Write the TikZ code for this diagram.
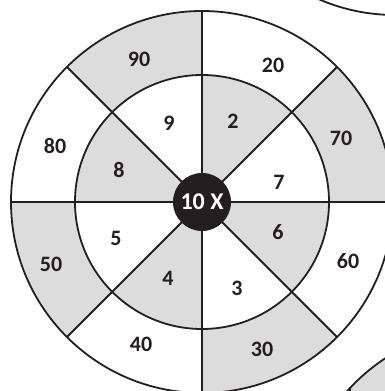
\documentclass[tikz,border=0pt]{standalone}
\usepackage{fontspec}
\setmainfont{Carlito}
\definecolor{ink}{HTML}{231F20}
\definecolor{ringgray}{HTML}{DCDCDC}
\begin{document}
\begin{tikzpicture}[x=1pt,y=1pt,
  ringline/.style={draw=ink,line width=1.8pt},
  lbl/.style={font=\bfseries\fontsize{22}{22}\selectfont,text=ink,inner sep=0pt},
  bulllbl/.style={font=\bfseries\fontsize{24}{24}\selectfont,text=white,inner sep=0pt}]
\useasboundingbox (0,0) rectangle (385,391);
\clip (0,0) rectangle (385,391);
\coordinate (C) at (202,189);
\def\Ro{191}
\def\Ri{127}
% outer gray wedges
\foreach \a/\b in {90/135,0/45,270/315,180/225}
  \fill[ringgray] (C) -- ++(\a:\Ro) arc[start angle=\a,end angle=\b,radius=\Ro] -- cycle;
\fill[white] (C) circle[radius=\Ri];
% inner gray wedges
\foreach \a/\b in {45/90,315/360,225/270,135/180}
  \fill[ringgray] (C) -- ++(\a:\Ri) arc[start angle=\a,end angle=\b,radius=\Ri] -- cycle;
% circles
\draw[ringline] (C) circle[radius=\Ro];
\draw[ringline] (C) circle[radius=\Ri];
% radial lines
\foreach \a in {0,45,...,315}
  \draw[ringline] (C) -- ++(\a:\Ro);
% bull
\fill[ink] (C) circle[radius=29];
\node[bulllbl] (bull) at (C) {10 X};
% outer labels
\node[lbl] (l90) at (139,332) {90};
\node[lbl] (l20) at (273,326) {20};
\node[lbl] (l70) at (341,253) {70};
\node[lbl] (l60) at (348,130) {60};
\node[lbl] (l30) at (262,42) {30};
\node[lbl] (l40) at (141,47) {40};
\node[lbl] (l50) at (51,127) {50};
\node[lbl] (l80) at (55,245) {80};
% inner labels
\node[lbl] (l9) at (169,268) {9};
\node[lbl] (l2) at (233,270) {2};
\node[lbl] (l7) at (279,209) {7};
\node[lbl] (l6) at (278,159) {6};
\node[lbl] (l3) at (237,103) {3};
\node[lbl] (l4) at (168,113) {4};
\node[lbl] (l5) at (116,153) {5};
\node[lbl] (l8) at (119,221) {8};
% neighbouring targets (partly visible)
\coordinate (T2) at (395,567);
\draw[ringline] (T2) circle[radius=191];
\coordinate (T3) at (490,-127);
\fill[ringgray] (T3) circle[radius=191];
\draw[ringline] (T3) circle[radius=191];
\coordinate (tickA) at (350,0);
\coordinate (tickB) at (350,4);
\draw[ringline] (tickA) -- (tickB);
\end{tikzpicture}
\end{document}
